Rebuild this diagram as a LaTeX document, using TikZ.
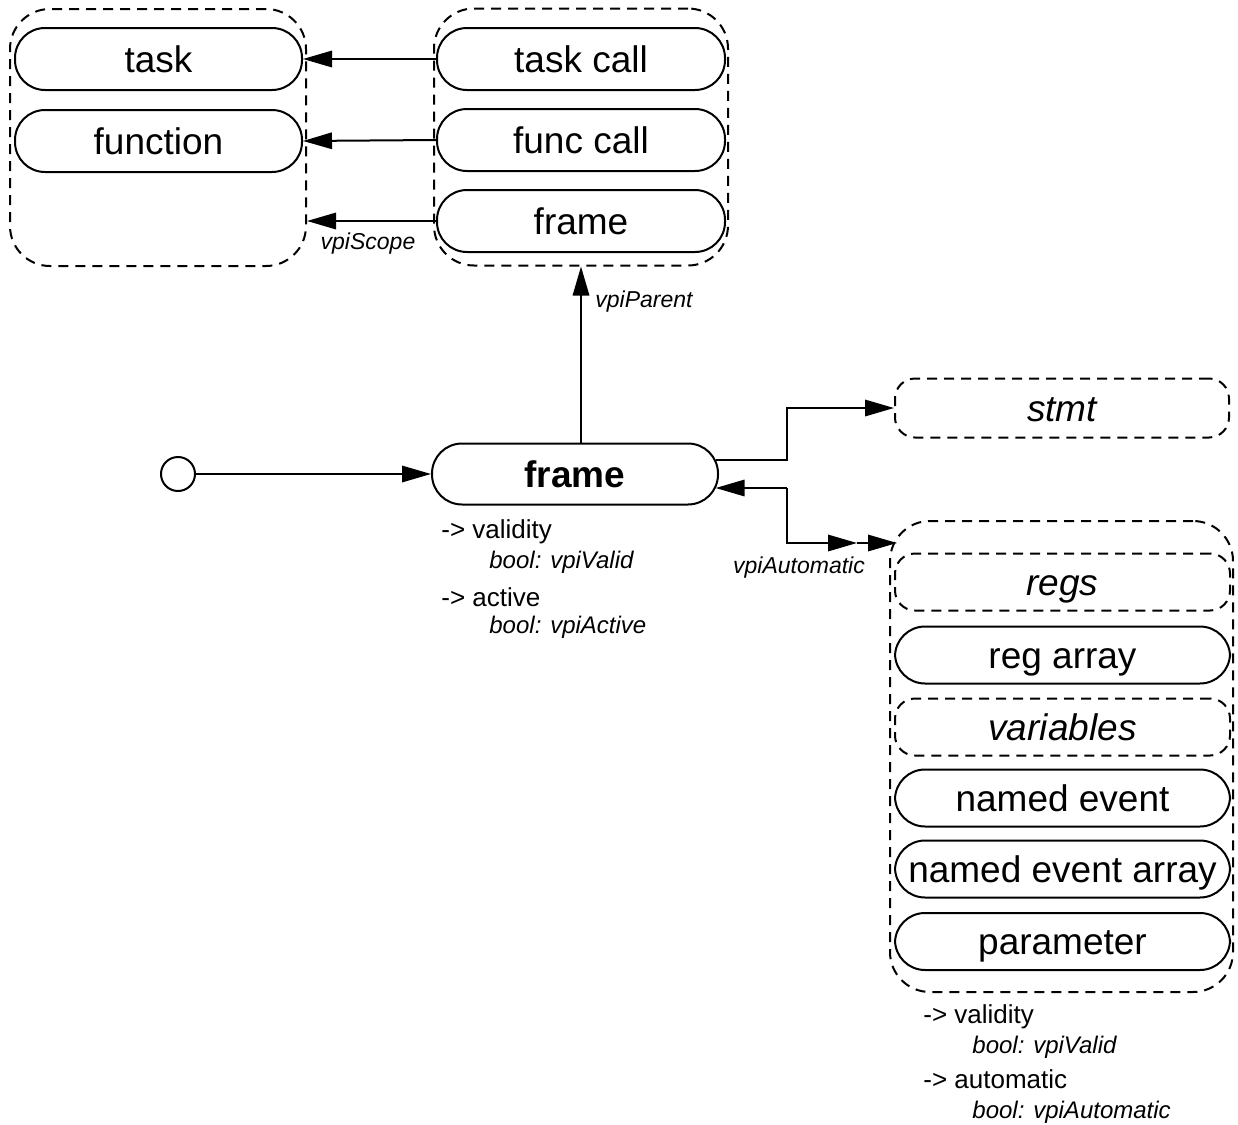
\documentclass[tikz,border=0pt]{standalone}
\usepackage{fontspec}
\setmainfont{Liberation Sans}
\usetikzlibrary{arrows.meta}
\begin{document}
\begin{tikzpicture}[x=0.5pt,y=-0.5pt,
 box/.style={draw, line width=1pt, rounded corners=15pt, inner sep=0pt, minimum width=143.5pt, minimum height=31pt, font=\fontsize{18.5}{22}\selectfont, text height=13.2pt, text depth=0pt},
 dbox/.style={box, dash pattern=on 5pt off 3.5pt, rounded corners=10pt, font=\fontsize{18.5}{22}\selectfont\itshape},
 grp/.style={draw, line width=1pt, dash pattern=on 5pt off 3.5pt, rounded corners=20pt, inner sep=0pt},
 tipA/.tip={Triangle[length=14.5pt,width=8.2pt]},
 arr/.style={line width=1pt, -tipA},
 lbl/.style={font=\fontsize{11.5}{14}\selectfont\itshape, inner sep=0pt},
 prop/.style={font=\fontsize{13}{15}\selectfont, inner sep=0pt, anchor=base west},
 propv/.style={font=\fontsize{12}{14}\selectfont\itshape, inner sep=0pt, anchor=base west},
 rbox/.style={minimum width=167.5pt, minimum height=28.5pt}
]
\useasboundingbox (0,0) rectangle (1238,1125);

% top-left group
\node[grp, minimum width=148pt, minimum height=128.5pt] (gTL) at (158,137.5) {};
\node[box] (task) at (158.5,59) {task};
\node[box] (func) at (158.5,141) {function};

% top-right group
\node[grp, minimum width=147pt, minimum height=128.5pt] (gTR) at (581,137) {};
\node[box, minimum width=144pt] (tcall) at (581,59) {task call};
\node[box, minimum width=144pt] (fcall) at (581,140) {func call};
\node[box, minimum width=144pt] (pframe) at (581,221) {frame};

% main
\node[box, minimum width=143pt, minimum height=30.5pt, font=\fontsize{18.5}{22}\selectfont\bfseries] (frame) at (575,474) {frame};
\node[circle, draw, line width=1pt, minimum size=17pt, inner sep=0pt] (start) at (178,474) {};

% stmt
\node[dbox, minimum width=167pt, minimum height=29.5pt] (stmt) at (1062,408) {stmt};

% right group
\node[grp, minimum width=171.5pt, minimum height=235.5pt] (gR) at (1061.5,756.5) {};
\node[dbox, rbox] (regs) at (1062.5,582) {regs};
\node[box, rbox] (regarr) at (1062.5,655) {reg array};
\node[dbox, rbox] (vars) at (1062.5,727) {variables};
\node[box, rbox] (nev) at (1062.5,798) {named event};
\node[box, rbox] (nevarr) at (1062.5,869) {named event array};
\node[box, rbox] (param) at (1062.5,941.5) {parameter};

% connectors
\draw[arr] (tcall.west) -- (task.east);
\draw[arr] (fcall.west) -- (func.east);
\draw[arr] (pframe.west) -- (pframe.west -| gTL.east);
\node[lbl] at (368,244) {vpiScope};

\draw[arr] (frame.north -| gTR.south) -- (gTR.south);
\node[lbl, anchor=west] at (595,302) {vpiParent};

\draw[arr] (start.east) -- (frame.west);

\coordinate (j1) at (787,460);
\coordinate (j2) at (787,488);
\coordinate (jm) at (857,543);
\coordinate (j3) at (897,543);
\draw[arr] ([shift={(-1.7pt,7pt)}]frame.east) -- (j1) |- (stmt.west);
\draw[arr] (j2) -- ([shift={(-1.7pt,-7pt)}]frame.east);
\draw[arr] (j2) |- (jm);
\draw[arr] (jm) -- (j3);
\node[lbl] at (799,568) {vpiAutomatic};

% properties
\node[prop] at (441,538) {-> validity};
\node[propv] at (489,568) {bool: vpiValid};
\node[prop] at (441,606) {-> active};
\node[propv] at (489,633) {bool: vpiActive};

\node[prop] at (923,1023) {-> validity};
\node[propv] at (972,1053) {bool: vpiValid};
\node[prop] at (923,1088) {-> automatic};
\node[propv] at (972,1118) {bool: vpiAutomatic};
\end{tikzpicture}
\end{document}
